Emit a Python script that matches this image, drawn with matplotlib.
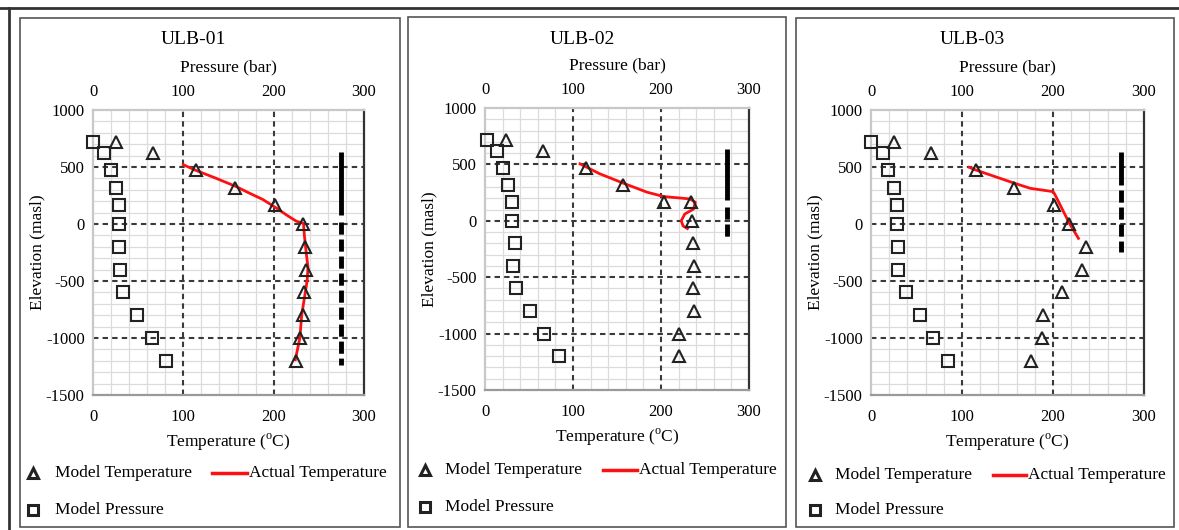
import numpy as np
import matplotlib
matplotlib.use("Agg")
import matplotlib.pyplot as plt
from matplotlib.lines import Line2D
from matplotlib.patches import Rectangle

plt.rcParams['font.family'] = 'Liberation Serif'
plt.rcParams['mathtext.fontset'] = 'custom'
plt.rcParams['mathtext.rm'] = 'Liberation Serif'
plt.rcParams['axes.unicode_minus'] = False

# ---- data ----
titles = ['ULB-01', 'ULB-02', 'ULB-03']
elev = [720, 620, 470, 320, 170, 0, -200, -400, -600, -800, -1000, -1200]

# ULB-01
ulb01_mt = [25, 66, 114, 157, 202, 233, 235, 236, 234, 232, 229, 225]
ulb01_mt_z = elev
ulb01_mp = [0, 12, 20, 25, 29, 29, 29, 30, 33, 49, 65, 81]
ulb01_at = [100, 114, 135, 158, 172, 188, 203, 215, 225, 233, 234, 236, 238, 237, 234, 231, 229, 224]
ulb01_at_z = [520, 470, 405, 330, 275, 215, 140, 75, 25, 5, -100, -250, -380, -500, -650, -800, -1000, -1190]
ulb01_bar_solid = [630, 75]
ulb01_bar_dash = [15, -1240]

# ULB-02
ulb02_mt = [24, 66, 115, 157, 203, 234, 235, 236, 237, 236, 237, 220, 220]
ulb02_mt_z = [720, 620, 470, 320, 170, 170, 0, -200, -400, -600, -800, -1000, -1200]
ulb02_mp = [2, 14, 20, 26, 31, 31, 34, 32, 35, 51, 67, 84]
ulb02_at = [108, 130, 157, 184, 203, 233, 239, 237, 227, 223, 225, 230]
ulb02_at_z = [505, 418, 334, 254, 215, 194, 164, 104, 60, 0, -45, -69]
ulb02_bar_solid = [635, 180]
ulb02_bar_dash = [125, -140]

# ULB-03
ulb03_mt = [25, 66, 115, 157, 201, 218, 236, 232, 210, 189, 188, 176]
ulb03_mt_z = elev
ulb03_mp = [0, 13, 19, 25, 29, 29, 30, 30, 38, 54, 68, 85]
ulb03_at = [108, 115, 156, 175, 200, 202, 218, 228]
ulb03_at_z = [497, 474, 362, 313, 284, 260, 6, -126]
ulb03_bar_solid = [630, 340]
ulb03_bar_dash = [300, -245]

bar_x = 275
xticks = [0, 100, 200, 300]
yticks = [1000, 500, 0, -500, -1000, -1500]

W, H = 1179, 530


def fx(x):
    return x / W


def fy(y):
    return 1 - y / H


fig = plt.figure(figsize=(W / 100, H / 100), dpi=100)

# pixel layout: axes box (left, top, right, bottom), frame box, legend origin
layout = [
    dict(ax=(93, 110, 364, 395), frame=(20, 18, 400, 527), leg=(33, 55, 212, 249, 473, 510)),
    dict(ax=(485, 108, 749, 390), frame=(408, 17, 786, 527), leg=(425, 445, 603, 639, 470, 507)),
    dict(ax=(871, 110, 1144, 395), frame=(796, 18, 1174, 527), leg=(815, 835, 993, 1028, 475, 510)),
]

series = [
    (ulb01_mt, ulb01_mt_z, ulb01_mp, ulb01_at, ulb01_at_z, ulb01_bar_solid, ulb01_bar_dash),
    (ulb02_mt, ulb02_mt_z, ulb02_mp, ulb02_at, ulb02_at_z, ulb02_bar_solid, ulb02_bar_dash),
    (ulb03_mt, ulb03_mt_z, ulb03_mp, ulb03_at, ulb03_at_z, ulb03_bar_solid, ulb03_bar_dash),
]

for title, lay, (mt, mt_z, mp, at, at_z, bs, bd) in zip(titles, layout, series):
    l, t, r, b = lay['ax']
    ax = fig.add_axes([fx(l), fy(b), (r - l) / W, (b - t) / H])
    ax.set_xlim(0, 300)
    ax.set_ylim(-1500, 1000)
    ax.set_xticks(xticks)
    ax.set_yticks(yticks)
    ax.set_xticks(np.arange(0, 301, 20), minor=True)
    ax.set_yticks(np.arange(-1500, 1001, 100), minor=True)
    ax.grid(which='minor', color='#dcdcdc', lw=0.9, zorder=0)
    ax.grid(which='major', visible=False)
    ax.tick_params(which='both', length=0, labelsize=12)
    ax.tick_params(axis='x', pad=10)
    ax.tick_params(axis='y', pad=6)
    ax.set_axisbelow(True)
    for v in [100, 200]:
        ax.axvline(v, color='#3a3a3a', lw=1.5, dashes=(2.6, 2.0), zorder=1)
    for h in [500, 0, -500, -1000]:
        ax.axhline(h, color='#3a3a3a', lw=1.5, dashes=(2.6, 2.0), zorder=1)

    ax.spines['left'].set_color('#c8c8c8')
    ax.spines['top'].set_color('#c8c8c8')
    ax.spines['bottom'].set_color('#9a9a9a')
    ax.spines['right'].set_color('#333333')
    for s in ax.spines.values():
        s.set_linewidth(1.6)

    ax.set_xlabel(r'Temperature ($^{\mathrm{o}}$C)', fontsize=12.5, labelpad=5)
    ax.set_ylabel('Elevation (masl)', fontsize=12.5, labelpad=0)

    # black bar (solid + dashed)
    ax.plot([bar_x, bar_x], bs, color='black', lw=3.5, solid_capstyle='butt', zorder=3)
    ax.plot([bar_x, bar_x], bd, color='black', lw=3.5, dashes=(2.5, 1.0),
            dash_capstyle='butt', zorder=3)

    ax.plot(at, at_z, color='#ff1010', lw=2, zorder=4)
    ax.plot(mt, mt_z, ls='none', marker='^', ms=9, mfc='none', mec='#222222',
            mew=1.5, zorder=5, clip_on=False)

    ax2 = ax.twiny()
    ax2.set_xlim(0, 300)
    ax2.set_xticks(xticks)
    ax2.tick_params(length=0, labelsize=12, pad=7)
    for s in ax2.spines.values():
        s.set_visible(False)
    ax2.set_xlabel('Pressure (bar)', fontsize=12.5, labelpad=9)
    ax2.plot(mp, elev, ls='none', marker='s', ms=8, mfc='none', mec='#222222',
             mew=1.5, zorder=5, clip_on=False)

    # title
    fig.text(fx((l + r) / 2 - 35), fy(39), title, fontsize=14, ha='center', va='center')

    # frame
    fl, ft, fr, fb = lay['frame']
    fig.add_artist(Rectangle((fx(fl), fy(fb)), (fr - fl) / W, (fb - ft) / H,
                             transform=fig.transFigure, fill=False,
                             ec='#555555', lw=1.2))

    # legend
    mx, tx, lx, ltx, y1, y2 = lay['leg']
    fig.add_artist(Line2D([fx(mx)], [fy(y1)], marker='^', ms=7.5, mfc='none',
                          mec='#222222', mew=2.2, transform=fig.transFigure))
    fig.text(fx(tx), fy(y1), 'Model Temperature', fontsize=12.5, va='center')
    fig.add_artist(Line2D([fx(lx), fx(ltx - 2)], [fy(y1), fy(y1)], color='#ff1010',
                          lw=2.5, transform=fig.transFigure))
    fig.text(fx(ltx), fy(y1), 'Actual Temperature', fontsize=12.5, va='center')
    fig.add_artist(Line2D([fx(mx)], [fy(y2)], marker='s', ms=7, mfc='none',
                          mec='#222222', mew=2.2, transform=fig.transFigure))
    fig.text(fx(tx), fy(y2), 'Model Pressure', fontsize=12.5, va='center')

# outer lines
fig.add_artist(Line2D([0, 1], [fy(8), fy(8)], color='#333333', lw=2,
                      transform=fig.transFigure))
fig.add_artist(Line2D([fx(9), fx(9)], [fy(8), 0], color='#333333', lw=2,
                      transform=fig.transFigure))

fig.savefig('out.png', dpi=100, facecolor='white')
